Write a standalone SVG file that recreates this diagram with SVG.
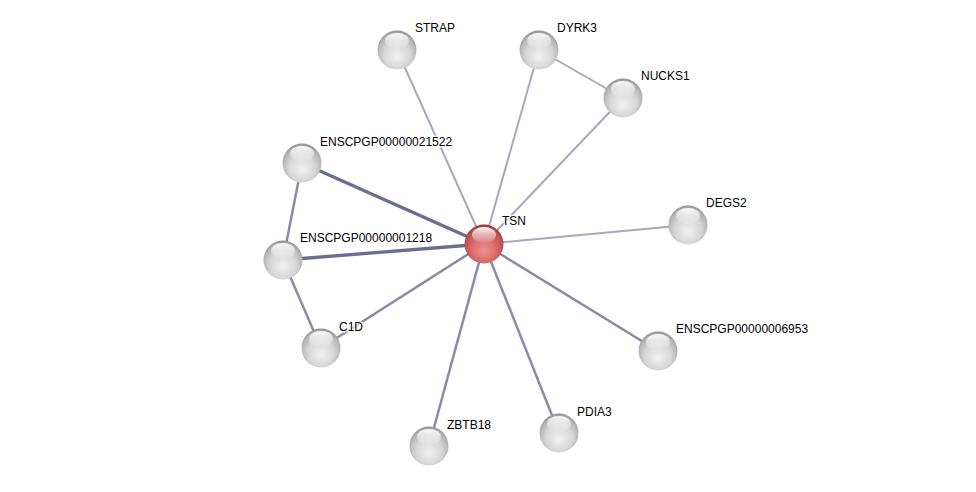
<svg xmlns="http://www.w3.org/2000/svg" width="976" height="492" viewBox="0 0 976 492">
<defs>
<radialGradient id="g" cx="0.5" cy="0.6" r="0.62" fx="0.5" fy="0.68">
<stop offset="0" stop-color="#f2f2f2"/>
<stop offset="0.55" stop-color="#d6d6d6"/>
<stop offset="0.85" stop-color="#b0b0b0"/>
<stop offset="1" stop-color="#888"/>
</radialGradient>
<radialGradient id="r" cx="0.5" cy="0.6" r="0.62" fx="0.5" fy="0.68">
<stop offset="0" stop-color="#f09090"/>
<stop offset="0.55" stop-color="#d86868"/>
<stop offset="0.85" stop-color="#b44c4c"/>
<stop offset="1" stop-color="#803030"/>
</radialGradient>
<linearGradient id="h" x1="0" y1="0" x2="0" y2="1">
<stop offset="0" stop-color="#fff" stop-opacity="0.95"/>
<stop offset="1" stop-color="#fff" stop-opacity="0.05"/>
</linearGradient>
<g id="sph">
<circle r="19.5" fill="url(#g)"/>
<ellipse cx="0" cy="-9" rx="12" ry="8" fill="url(#h)"/>
</g>
<g id="sphr">
<circle r="19.5" fill="url(#r)"/>
<ellipse cx="0" cy="-9" rx="12" ry="8" fill="url(#h)"/>
</g>
</defs>
<style>
text{font-family:"Liberation Sans",Arial,sans-serif;font-size:12px;fill:#000;paint-order:stroke;stroke:#fff;stroke-width:3px;stroke-opacity:0.8}
.e{stroke-linecap:butt;fill:none}
.l{stroke:#a8a8bc;stroke-width:2}
.m{stroke:#8a8ca6;stroke-width:2.5}
.t{stroke:#6b6e8c;stroke-width:3.3}
</style>
<rect width="976" height="492" fill="#fff"/>
<g id="edges">
<line class="e l" x1="484" y1="244" x2="397" y2="50"/>
<line class="e l" x1="484" y1="244" x2="539" y2="50"/>
<line class="e l" x1="484" y1="244" x2="623" y2="98"/>
<line class="e l" x1="539" y1="50" x2="623" y2="98"/>
<line class="e l" x1="484" y1="244" x2="688" y2="225"/>
<line class="e m" x1="484" y1="244" x2="658" y2="351"/>
<line class="e m" x1="484" y1="244" x2="559" y2="433"/>
<line class="e m" x1="484" y1="244" x2="429" y2="446"/>
<line class="e m" x1="484" y1="244" x2="321" y2="348"/>
<line class="e t" x1="484" y1="244" x2="302" y2="163"/>
<line class="e t" x1="484" y1="244" x2="283" y2="260"/>
<line class="e m" x1="302" y1="163" x2="283" y2="260"/>
<line class="e m" x1="283" y1="260" x2="321" y2="348"/>
</g>
<g id="n-STRAP"><use href="#sph" x="397" y="50"/><text x="415" y="32">STRAP</text></g>
<g id="n-DYRK3"><use href="#sph" x="539" y="50"/><text x="557" y="32">DYRK3</text></g>
<g id="n-NUCKS1"><use href="#sph" x="623" y="98"/><text x="641" y="80">NUCKS1</text></g>
<g id="n-ENSCPGP00000021522"><use href="#sph" x="302" y="163"/><text x="320" y="146">ENSCPGP00000021522</text></g>
<g id="n-DEGS2"><use href="#sph" x="688" y="225"/><text x="706" y="207">DEGS2</text></g>
<g id="n-ENSCPGP00000001218"><use href="#sph" x="283" y="260"/><text x="300" y="242">ENSCPGP00000001218</text></g>
<g id="n-ENSCPGP00000006953"><use href="#sph" x="658" y="351"/><text x="676" y="333">ENSCPGP00000006953</text></g>
<g id="n-C1D"><use href="#sph" x="321" y="348"/><text x="339" y="331">C1D</text></g>
<g id="n-ZBTB18"><use href="#sph" x="429" y="446"/><text x="447" y="429">ZBTB18</text></g>
<g id="n-PDIA3"><use href="#sph" x="559" y="433"/><text x="577" y="416">PDIA3</text></g>
<g id="n-TSN"><use href="#sphr" x="484" y="244"/><text x="502" y="225">TSN</text></g>
</svg>
